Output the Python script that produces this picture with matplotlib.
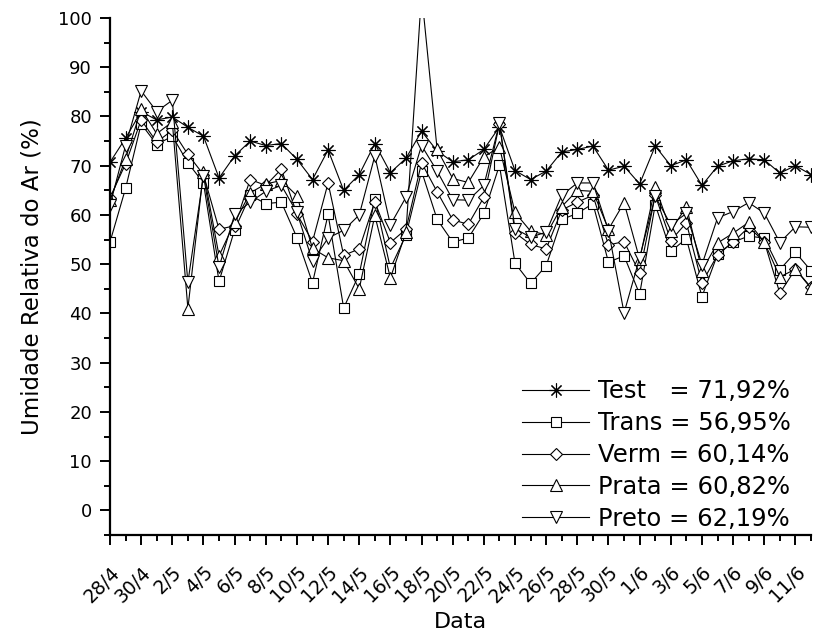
import numpy as np
import matplotlib.pyplot as plt
from matplotlib.ticker import MultipleLocator

# Dias de 28/4 a 12/6 (46 leituras diarias)
dias = np.arange(46)
rotulos = ['28/4', '30/4', '2/5', '4/5', '6/5', '8/5', '10/5', '12/5', '14/5',
           '16/5', '18/5', '20/5', '22/5', '24/5', '26/5', '28/5', '30/5', '1/6',
           '3/6', '5/6', '7/6', '9/6', '11/6']

test = [70.7, 75.6, 81.0, 79.3, 79.9, 77.8, 76.0, 67.5, 72.0, 75.0,
        74.1, 74.5, 71.3, 67.2, 73.2, 65.0, 68.2, 74.5, 68.6, 71.5,
        77.0, 73.0, 70.8, 71.2, 73.3, 77.9, 69.0, 67.2, 68.9, 72.8,
        73.3, 74.0, 69.1, 69.9, 66.3, 74.0, 70.0, 71.2, 66.0, 69.9,
        71.0, 71.4, 71.2, 68.5, 70.0, 68.2]
trans = [54.5, 65.4, 78.5, 74.3, 76.0, 70.6, 66.5, 46.5, 57.0, 64.0,
         62.3, 62.6, 55.4, 46.2, 60.1, 41.1, 48.0, 63.3, 49.2, 55.9,
         68.9, 59.1, 54.5, 55.3, 60.3, 70.1, 50.2, 46.1, 49.7, 59.1,
         60.3, 62.3, 50.4, 51.7, 43.9, 62.1, 52.6, 55.2, 43.4, 52.0,
         54.5, 55.7, 55.3, 48.9, 52.4, 48.7]
verm = [63.5, 70.4, 79.3, 74.8, 77.2, 72.3, 68.2, 57.1, 57.8, 67.2,
        66.0, 69.3, 60.2, 54.6, 66.5, 51.8, 53.1, 62.7, 54.4, 57.1,
        70.6, 64.7, 59.0, 58.1, 63.6, 78.5, 56.4, 54.0, 53.1, 61.0,
        62.6, 64.0, 53.9, 54.6, 48.2, 64.0, 54.8, 58.4, 46.2, 51.9,
        54.5, 57.5, 54.6, 44.1, 49.0, 45.3]
prata = [63.0, 71.4, 81.5, 76.5, 78.9, 41.0, 68.8, 51.7, 58.5, 64.5,
         66.3, 67.0, 63.9, 53.2, 51.3, 50.7, 45.0, 59.9, 47.2, 56.5,
         105.0, 73.3, 67.4, 66.6, 71.8, 73.8, 60.5, 56.7, 56.0, 61.7,
         65.0, 64.8, 57.1, 62.5, 51.0, 65.7, 56.8, 61.7, 48.7, 54.3,
         56.3, 58.5, 54.5, 47.4, 49.0, 45.1]
preto = [62.0, 74.1, 85.2, 81.0, 83.3, 46.3, 68.0, 49.4, 60.1, 62.6,
         64.8, 66.0, 60.5, 50.6, 55.3, 56.9, 60.0, 72.0, 58.0, 63.6,
         74.1, 68.9, 63.1, 63.0, 66.0, 78.6, 57.2, 55.5, 56.5, 64.0,
         66.5, 66.5, 56.8, 40.1, 51.3, 63.8, 58.0, 60.3, 49.9, 59.4,
         60.7, 62.5, 60.4, 54.4, 57.6, 57.5]

fig = plt.figure(figsize=(8.13, 6.33), dpi=100)
ax = fig.add_axes([110 / 813, 1 - 535 / 633, 701 / 813, 517 / 633])

estilo = dict(color='black', lw=0.8, mfc='white', mec='black', mew=0.8)
ax.plot(dias, test, marker=(8, 2, 0), ms=10, label='Test   = 71,92%', **estilo)
ax.plot(dias, trans, marker='s', ms=7, label='Trans = 56,95%', **estilo)
ax.plot(dias, verm, marker='D', ms=6.5, label='Verm = 60,14%', **estilo)
ax.plot(dias, prata, marker='^', ms=9, label='Prata = 60,82%', **estilo)
ax.plot(dias, preto, marker='v', ms=9, label='Preto = 62,19%', **estilo)

ax.set_xlim(0, 45)
ax.set_ylim(-5, 100)
ax.xaxis.set_minor_locator(MultipleLocator(1))
ax.yaxis.set_major_locator(MultipleLocator(10))
ax.yaxis.set_minor_locator(MultipleLocator(5))
ax.set_xticks(np.arange(0, 45, 2))
ax.set_xticklabels(rotulos, rotation=45, ha='right', rotation_mode='anchor')

ax.tick_params(which='major', direction='out', length=7, width=1.4, labelsize=13, pad=6)
ax.tick_params(which='minor', direction='out', length=4, width=1.4)
ax.tick_params(axis='x', which='major', labelsize=13.5, pad=13)
for lado in ['top', 'right']:
    ax.spines[lado].set_visible(False)
for lado in ['left', 'bottom']:
    ax.spines[lado].set_linewidth(1.6)

ax.set_xlabel('Data', fontsize=16)
ax.set_ylabel('Umidade Relativa do Ar (%)', fontsize=16.5)
ax.xaxis.set_label_coords(0.5, -0.148)
ax.yaxis.set_label_coords(-0.095, 0.5)

ax.legend(loc='lower right', bbox_to_anchor=(0.988, -0.015), frameon=False,
          fontsize=17.5, handlelength=2.75, handletextpad=0.35, labelspacing=0.32,
          borderpad=0, numpoints=1)

fig.savefig('out.png', dpi=100)
